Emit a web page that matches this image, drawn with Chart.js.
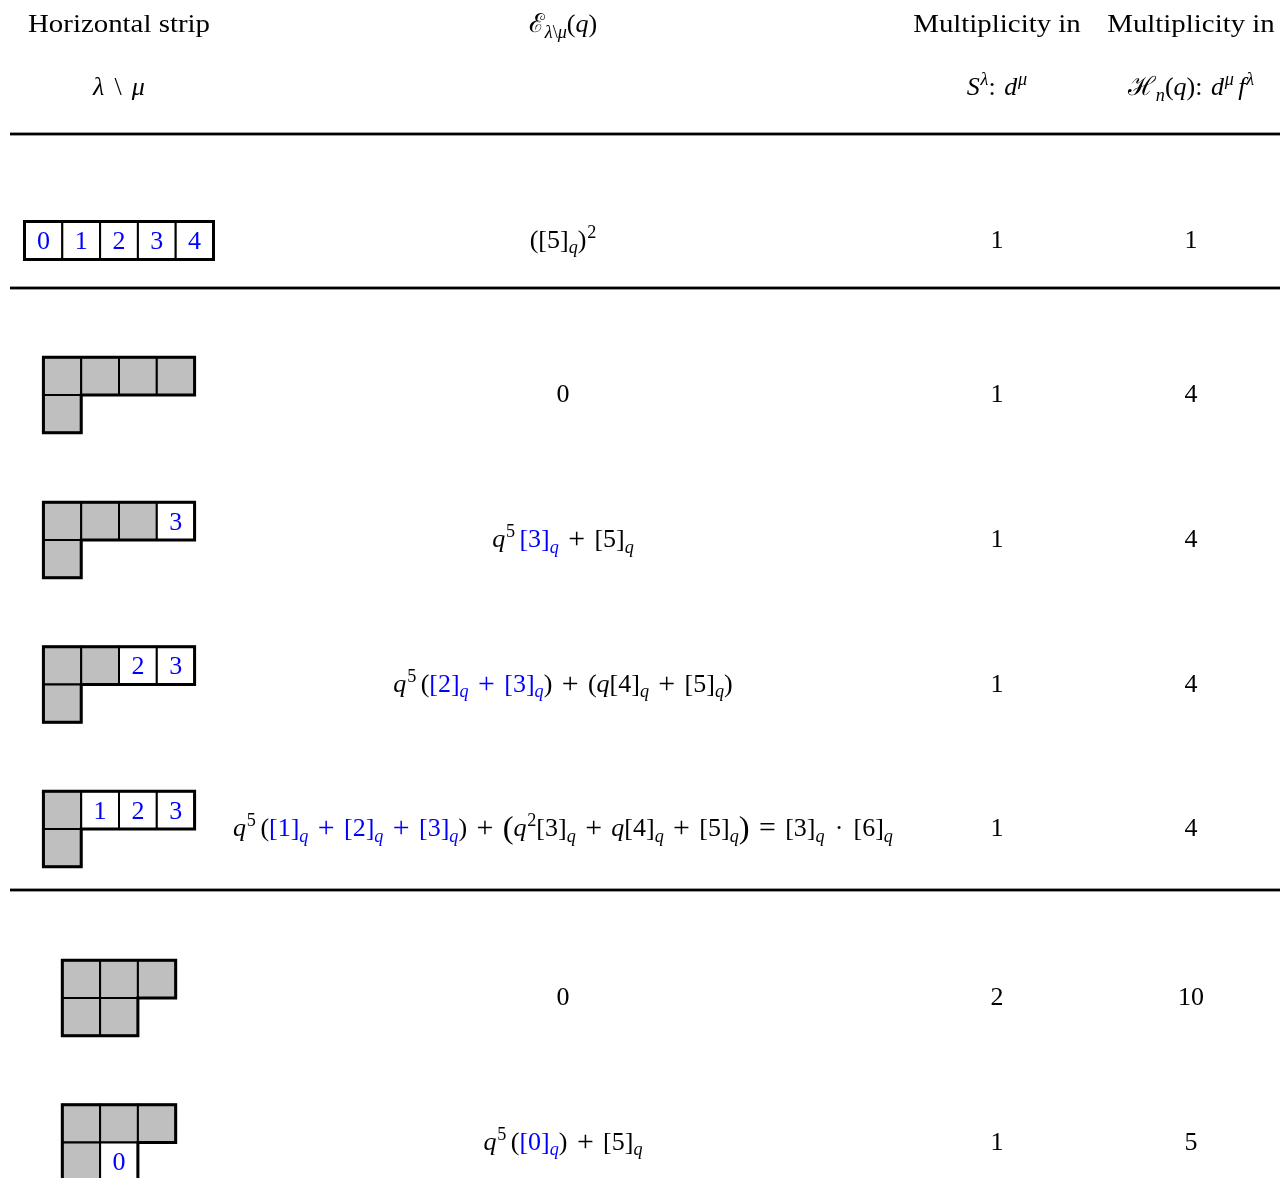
<!DOCTYPE html>
<html lang="en">
<head>
<meta charset="UTF-8">
<title>Horizontal strips</title>
<script src="https://cdn.jsdelivr.net/npm/chart.js"></script>
<style>
  * { margin: 0; padding: 0; box-sizing: border-box; }
  body { background: #ffffff; width: 1280px; height: 1178px; overflow: hidden; }
  #wrap { width: 1280px; height: 1178px; }
</style>
</head>
<body>
<div id="wrap"><canvas id="table" width="1280" height="1178"></canvas></div>
<script>
// --- table data ---
const headerTop = ['Horizontal strip', '$ℰ_{λ\\μ}(q)', 'Multiplicity in', 'Multiplicity in'];
const headerBottom = ['$λ \\ μ', '', '$S^λ:~d^μ', '$ℋ_n(q):~d^μ f^λ'];
// row lengths of lambda, and of mu (the shaded part)
const shapes = [[5], [4, 1], [4, 1], [4, 1], [4, 1], [3, 2], [3, 2]];
const shaded = [[0], [4, 1], [3, 1], [2, 1], [1, 1], [3, 2], [3, 1]];
// numbers written in the white (strip) cells, per diagram row
const fillings = [[[0, 1, 2, 3, 4]], [], [[3]], [[2, 3]], [[1, 2, 3]], [], [[], [0]]];
// « » mark the blue part
const energies = [
  '([5]_q)^2',
  '0',
  'q^5 «[3]_q» + [5]_q',
  'q^5 («[2]_q + [3]_q») + (q[4]_q + [5]_q)',
  'q^5 («[1]_q + [2]_q + [3]_q») + ‹q^2[3]_q + q[4]_q + [5]_q› = [3]_q · [6]_q',
  '0',
  'q^5 («[0]_q») + [5]_q'
];
const multS = [1, 1, 1, 1, 1, 2, 1];
const multH = [1, 4, 4, 4, 4, 10, 5];

// --- layout ---
const COL_X = [119, 563, 997, 1191];
const ROW_Y = [240.5, 395, 540, 684.5, 829, 998, 1142.5];
const HEAD_BASE = [32, 95];
const RULE_Y = [134, 288, 890];
const CELL = 37.8;
const FS = 26;
const SX_TEXT = 1.11;
const SX_MATH = 1.0;
const SERIF = '"Liberation Serif", "DejaVu Serif", serif';
const BLACK = '#000000';
const BLUE = '#0000ff';
const GRAY = '#bfbfbf';

function mathFont(ch, size) {
  const it = /[A-Za-zλμ]/.test(ch);
  return (it ? 'italic ' : '') + size + 'px ' + SERIF;
}

function layoutMath(ctx, src, size) {
  const runs = [];
  let x = 0, color = BLACK, i = 0;
  const put = (s, sz, dy, col, fnt) => {
    ctx.font = fnt || mathFont(s, sz);
    runs.push({ s, x, dy, color: col, font: ctx.font });
    x += ctx.measureText(s).width;
  };
  while (i < src.length) {
    const c = src[i];
    if (c === '«') { color = BLUE; i++; continue; }
    if (c === '»') { color = BLACK; i++; continue; }
    if (c === '^' || c === '_') {
      let body;
      if (src[i + 1] === '{') { const j = src.indexOf('}', i); body = src.slice(i + 2, j); i = j + 1; }
      else { body = src[i + 1]; i += 2; }
      const sz = size * 0.7;
      const dy = c === '^' ? -0.38 * size : 0.22 * size;
      if (c === '^') x += 0.03 * size;
      for (const b of body) put(b, sz, dy, color);
      continue;
    }
    i++;
    if (c === ' ') { x += 0.17 * size; continue; }
    if (c === '~') { x += 0.33 * size; continue; }
    if (c === '+' || c === '=') {
      // CM operators are a bit larger than the serif ones
      x += 0.19 * size;
      put(c, size * 1.15, 0.04 * size, color, (size * 1.15) + 'px ' + SERIF);
      x += 0.19 * size;
      continue;
    }
    if (c === '·' || c === '\\') {
      x += 0.22 * size;
      put(c, size, 0, color, size + 'px ' + SERIF);
      x += 0.22 * size;
      continue;
    }
    if (c === '‹' || c === '›') {
      put(c === '‹' ? '(' : ')', size * 1.25, 0.06 * size, color, (size * 1.25) + 'px ' + SERIF);
      continue;
    }
    put(c, size, 0, color);
  }
  return { runs, width: x };
}

function drawRuns(ctx, runs, left, base, sx) {
  for (const r of runs) {
    ctx.save();
    ctx.translate(left + r.x * sx, base + r.dy);
    ctx.scale(sx, 1);
    ctx.font = r.font;
    ctx.fillStyle = r.color;
    ctx.fillText(r.s, 0, 0);
    ctx.restore();
  }
}

function drawMath(ctx, src, cx, base, size, color) {
  const lay = layoutMath(ctx, src, size);
  if (color) lay.runs.forEach(r => { if (r.color === BLACK) r.color = color; });
  drawRuns(ctx, lay.runs, cx - lay.width * SX_MATH / 2, base, SX_MATH);
}

function drawLabel(ctx, str, cx, base) {
  if (str.startsWith('$')) { drawMath(ctx, str.slice(1), cx, base, FS); return; }
  ctx.font = FS + 'px ' + SERIF;
  const w = ctx.measureText(str).width;
  drawRuns(ctx, [{ s: str, x: 0, dy: 0, color: BLACK, font: ctx.font }], cx - w * SX_TEXT / 2, base, SX_TEXT);
}

function drawDiagram(ctx, xs, ys, r) {
  const shape = shapes[r], mu = shaded[r], fill = fillings[r];
  const width = shape[0], height = shape.length;
  const x0 = COL_X[0] - width * CELL / 2;
  const y0 = ROW_Y[r] - height * CELL / 2;
  const px = c => xs.getPixelForValue(x0 + c * CELL);
  const py = k => ys.getPixelForValue(y0 + k * CELL);
  shape.forEach((len, k) => {
    for (let c = 0; c < len; c++) {
      ctx.fillStyle = c < (mu[k] || 0) ? GRAY : '#ffffff';
      ctx.fillRect(px(c), py(k), px(c + 1) - px(c), py(k + 1) - py(k));
      ctx.lineWidth = 2;
      ctx.strokeStyle = BLACK;
      ctx.strokeRect(px(c), py(k), px(c + 1) - px(c), py(k + 1) - py(k));
    }
    const nums = fill[k] || [];
    nums.forEach((n, j) => {
      const c = (mu[k] || 0) + j;
      const cx = (px(c) + px(c + 1)) / 2;
      const cy = (py(k) + py(k + 1)) / 2;
      drawMath(ctx, String(n), cx, cy + 8.5, FS, BLUE);
    });
  });
  // outer outline
  ctx.beginPath();
  ctx.moveTo(px(0), py(0));
  shape.forEach((len, k) => {
    ctx.lineTo(px(len), py(k));
    ctx.lineTo(px(len), py(k + 1));
  });
  ctx.lineTo(px(0), py(height));
  ctx.closePath();
  ctx.lineWidth = 3;
  ctx.strokeStyle = BLACK;
  ctx.stroke();
}

const tablePlugin = {
  id: 'strips',
  afterDatasetsDraw(chart) {
    const ctx = chart.ctx;
    const xs = chart.scales.x, ys = chart.scales.y;
    ctx.save();
    ctx.textBaseline = 'alphabetic';
    // header
    COL_X.forEach((cx, i) => {
      drawLabel(ctx, headerTop[i], xs.getPixelForValue(cx), ys.getPixelForValue(HEAD_BASE[0]));
      if (headerBottom[i]) drawLabel(ctx, headerBottom[i], xs.getPixelForValue(cx), ys.getPixelForValue(HEAD_BASE[1]));
    });
    // rules
    ctx.fillStyle = BLACK;
    RULE_Y.forEach(y => {
      const yp = ys.getPixelForValue(y);
      ctx.fillRect(xs.getPixelForValue(10), yp - 1.4, xs.getPixelForValue(1280) - xs.getPixelForValue(10), 2.8);
    });
    // rows
    shapes.forEach((s, r) => {
      drawDiagram(ctx, xs, ys, r);
      drawMath(ctx, energies[r], xs.getPixelForValue(COL_X[1]), ys.getPixelForValue(ROW_Y[r]) + 7, FS);
    });
    // multiplicities come from the dataset points
    chart.data.datasets.forEach((ds, d) => {
      chart.getDatasetMeta(d).data.forEach((pt, i) => {
        drawMath(ctx, String(ds.values[i]), pt.x, pt.y + 7, FS);
      });
    });
    ctx.restore();
  }
};

new Chart(document.getElementById('table'), {
  type: 'scatter',
  data: {
    datasets: [
      { label: 'S', values: multS, data: multS.map((v, i) => ({ x: COL_X[2], y: ROW_Y[i] })), pointRadius: 0 },
      { label: 'H', values: multH, data: multH.map((v, i) => ({ x: COL_X[3], y: ROW_Y[i] })), pointRadius: 0 }
    ]
  },
  options: {
    responsive: false,
    animation: false,
    events: [],
    layout: { padding: 0 },
    plugins: { legend: { display: false }, tooltip: { enabled: false } },
    scales: {
      x: { type: 'linear', min: 0, max: 1280, display: false },
      y: { type: 'linear', min: 0, max: 1178, reverse: true, display: false }
    }
  },
  plugins: [tablePlugin]
});
</script>
</body>
</html>
